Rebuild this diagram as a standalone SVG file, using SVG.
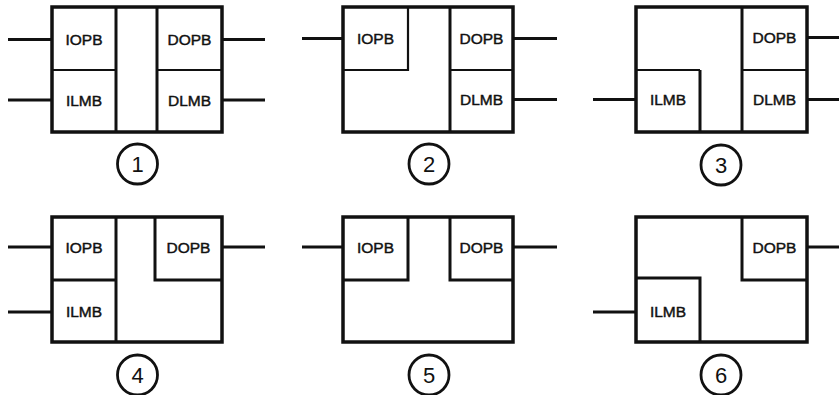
<svg xmlns="http://www.w3.org/2000/svg" width="839" height="395" viewBox="0 0 839 395">
<style>
.box{fill:#fff;stroke:#111;stroke-width:3.5}
.thk{stroke:#111;stroke-width:3}
.thn{stroke:#111;stroke-width:2.2;fill:none}
.thk{fill:none}
.wire{stroke:#111;stroke-width:3;fill:none}
.lbl{font-family:"Liberation Sans",Arial,sans-serif;font-size:15.5px;fill:#111;text-anchor:middle;stroke:#111;stroke-width:0.45}
.num{fill:#fff;stroke:#111;stroke-width:2.8}
.dig{font-family:"Liberation Sans",Arial,sans-serif;font-size:22px;fill:#111;text-anchor:middle}
</style>
<rect width="839" height="395" fill="#fff"/>
<g id="connectors">
<line class="wire" x1="8" y1="39.5" x2="52" y2="39.5"/>
<line class="wire" x1="8" y1="100" x2="52" y2="100"/>
<line class="wire" x1="222" y1="39.5" x2="265" y2="39.5"/>
<line class="wire" x1="222" y1="100" x2="265" y2="100"/>
<line class="wire" x1="302" y1="38.5" x2="343" y2="38.5"/>
<line class="wire" x1="513" y1="38.5" x2="557" y2="38.5"/>
<line class="wire" x1="513" y1="99.5" x2="557" y2="99.5"/>
<line class="wire" x1="593" y1="99.5" x2="636" y2="99.5"/>
<line class="wire" x1="807" y1="37.5" x2="839" y2="37.5"/>
<line class="wire" x1="807" y1="99.5" x2="839" y2="99.5"/>
<line class="wire" x1="8" y1="247" x2="52" y2="247"/>
<line class="wire" x1="8" y1="312" x2="52" y2="312"/>
<line class="wire" x1="222" y1="247" x2="265" y2="247"/>
<line class="wire" x1="302" y1="247" x2="343" y2="247"/>
<line class="wire" x1="513" y1="247" x2="557" y2="247"/>
<line class="wire" x1="593" y1="312" x2="636" y2="312"/>
<line class="wire" x1="807" y1="247" x2="839" y2="247"/>
</g>
<g id="config1">
<rect class="box" x="52" y="7" width="170" height="125"/>
<line class="thk" x1="116" y1="7" x2="116" y2="132"/>
<line class="thk" x1="157" y1="7" x2="157" y2="132"/>
<line class="thn" x1="52" y1="70" x2="116" y2="70"/>
<line class="thn" x1="157" y1="70" x2="222" y2="70"/>
<text class="lbl" x="84" y="45">IOPB</text>
<text class="lbl" x="84" y="106">ILMB</text>
<text class="lbl" x="189.5" y="45">DOPB</text>
<text class="lbl" x="189.5" y="106">DLMB</text>
<circle class="num" cx="137.5" cy="164" r="20"/>
<text class="dig" x="137.5" y="172">1</text>
</g>
<g id="config2">
<rect class="box" x="343" y="7" width="170" height="125"/>
<polyline class="thn" points="343,70 408,70 408,7"/>
<line class="thk" x1="450" y1="7" x2="450" y2="132"/>
<line class="thn" x1="450" y1="70" x2="513" y2="70"/>
<text class="lbl" x="375.5" y="44">IOPB</text>
<text class="lbl" x="481.5" y="44">DOPB</text>
<text class="lbl" x="481.5" y="105">DLMB</text>
<circle class="num" cx="429" cy="164" r="20"/>
<text class="dig" x="429" y="172">2</text>
</g>
<g id="config3">
<rect class="box" x="636" y="7" width="171" height="125"/>
<line class="thn" x1="636" y1="70" x2="700" y2="70"/>
<line class="thk" x1="700" y1="70" x2="700" y2="132"/>
<line class="thk" x1="742" y1="7" x2="742" y2="132"/>
<line class="thn" x1="742" y1="70" x2="807" y2="70"/>
<text class="lbl" x="774.5" y="43">DOPB</text>
<text class="lbl" x="668" y="105">ILMB</text>
<text class="lbl" x="774.5" y="105">DLMB</text>
<circle class="num" cx="721" cy="165" r="20"/>
<text class="dig" x="721" y="173">3</text>
</g>
<g id="config4">
<rect class="box" x="52" y="217" width="170" height="125"/>
<line class="thk" x1="116" y1="217" x2="116" y2="342"/>
<line class="thk" x1="52" y1="280" x2="116" y2="280"/>
<polyline class="thk" points="155,217 155,280 222,280"/>
<text class="lbl" x="84" y="252.5">IOPB</text>
<text class="lbl" x="84" y="316.5">ILMB</text>
<text class="lbl" x="188.5" y="252.5">DOPB</text>
<circle class="num" cx="137.5" cy="375" r="20"/>
<text class="dig" x="137.5" y="383">4</text>
</g>
<g id="config5">
<rect class="box" x="343" y="217" width="170" height="125"/>
<polyline class="thk" points="408,217 408,280 343,280"/>
<polyline class="thk" points="450,217 450,280 513,280"/>
<text class="lbl" x="375.5" y="252.5">IOPB</text>
<text class="lbl" x="481.5" y="252.5">DOPB</text>
<circle class="num" cx="429" cy="375" r="20"/>
<text class="dig" x="429" y="383">5</text>
</g>
<g id="config6">
<rect class="box" x="636" y="217" width="171" height="125"/>
<polyline class="thk" points="742,217 742,280 807,280"/>
<polyline class="thk" points="636,278 700,278 700,342"/>
<text class="lbl" x="774.5" y="252.5">DOPB</text>
<text class="lbl" x="668" y="316.5">ILMB</text>
<circle class="num" cx="721" cy="375" r="20"/>
<text class="dig" x="721" y="383">6</text>
</g>
</svg>
